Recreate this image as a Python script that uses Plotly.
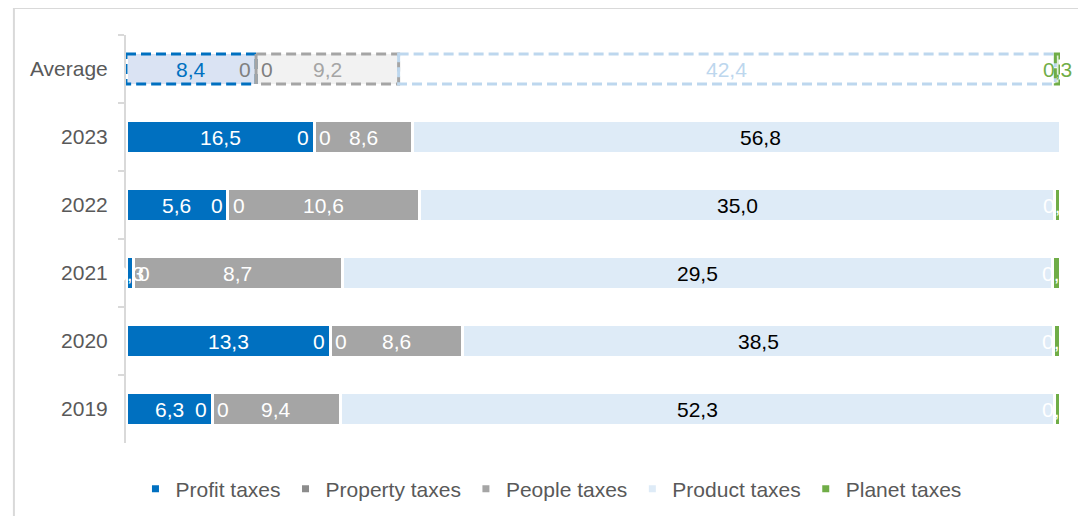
import plotly.graph_objects as go

categories = ["Average", "2023", "2022", "2021", "2020", "2019"]
profit = [8.4, 16.5, 5.6, 0.3, 13.3, 6.3]
property_ = [0, 0, 0, 0, 0, 0]
people = [9.2, 8.6, 10.6, 8.7, 8.6, 9.4]
product = [42.4, 56.8, 35.0, 29.5, 38.5, 52.3]
planet = [0.3, 0, 0.3, 0.3, 0.4, 0.4]
series_names = ["Profit taxes", "Property taxes", "People taxes", "Product taxes", "Planet taxes"]
series_values = [profit, property_, people, product, planet]

main_colors = ["#0070C0", "#7F7F7F", "#A5A5A5", "#DEEBF7", "#70AD47"]
avg_fill = ["#DAE3F3", "#F2F2F2", "#F2F2F2", "#FFFFFF", "#E2F0D9"]
avg_border = ["#0070C0", "#A5A5A5", "#A5A5A5", "#BDD7EE", "#70AD47"]
label_main = ["white", "white", "white", "black", "white"]
label_avg = ["#0070C0", "#7F7F7F", "#A5A5A5", "#BDD7EE", "#70AD47"]

FONT = "Liberation Sans, Arial, sans-serif"
BAR_W = 0.485
FS = 21
# manually moved data label in the original (row, series) -> pixel shift
LABEL_NUDGE = {(1, 3): 24}


def fmt(v):
    if v == 0:
        return "0"
    return f"{v:.1f}".replace(".", ",")


fig = go.Figure()
for i, (name, vals) in enumerate(zip(series_names, series_values)):
    fig.add_trace(go.Bar(
        y=categories, x=vals, orientation="h", name=name, showlegend=False,
        width=BAR_W,
        marker=dict(color=[avg_fill[i]] + [main_colors[i]] * (len(categories) - 1),
                    line=dict(color="white", width=3)),
        hoverinfo="skip",
    ))

# legend entries
for i, name in enumerate(series_names):
    fig.add_trace(go.Scatter(
        x=[None], y=[categories[0]], mode="markers", name=name,
        marker=dict(symbol="square", size=7, color=main_colors[i] if i != 1 else "#8C8C8C"),
        hoverinfo="skip",
    ))

shapes = []
annotations = []
for r, cat in enumerate(categories):
    vals = [s[r] for s in series_values]
    total = sum(vals)
    pct = [v / total * 100 for v in vals]
    starts = []
    acc = 0
    for p in pct:
        starts.append(acc)
        acc += p
    colors = label_avg if r == 0 else label_main
    for i in range(5):
        s, e = starts[i], starts[i] + pct[i]
        c = (s + e) / 2
        if r == 0:
            shapes.append(dict(type="rect", xref="x", yref="y", x0=s, x1=e,
                               y0=r - 0.22, y1=r + 0.22,
                               line=dict(color=avg_border[i], width=3, dash="10px,5px"),
                               fillcolor="rgba(0,0,0,0)", layer="above"))
        if i == 1:
            annotations.append(dict(x=s, y=r, xref="x", yref="y", text=fmt(vals[i]),
                                    showarrow=False, xanchor="right", xshift=-3,
                                    font=dict(family=FONT, size=FS, color=colors[i])))
            annotations.append(dict(x=s, y=r, xref="x", yref="y", text=fmt(vals[i]),
                                    showarrow=False, xanchor="left", xshift=3,
                                    font=dict(family=FONT, size=FS, color=colors[i])))
        elif i == 4 and vals[i] == 0:
            annotations.append(dict(x=e, y=r, xref="x", yref="y", text=fmt(vals[i]),
                                    showarrow=False, xanchor="right", xshift=-5,
                                    font=dict(family=FONT, size=FS, color=colors[i])))
        else:
            annotations.append(dict(x=c, y=r, xref="x", yref="y", text=fmt(vals[i]),
                                    showarrow=False, xanchor="center",
                                    xshift=LABEL_NUDGE.get((r, i), 0),
                                    font=dict(family=FONT, size=FS, color=colors[i])))

# chart frame
shapes.append(dict(type="rect", xref="paper", yref="paper", x0=-0.12, x1=1.024,
                   y0=-0.25, y1=1.066, line=dict(color="#D9D9D9", width=2),
                   fillcolor="rgba(0,0,0,0)", layer="below"))

fig.update_layout(
    width=1078, height=508,
    barmode="stack", barnorm="percent",
    paper_bgcolor="white", plot_bgcolor="white",
    margin=dict(l=118, r=26, t=27, b=73, autoexpand=False),
    font=dict(family=FONT, size=FS, color="#595959"),
    xaxis=dict(range=[0, 100], visible=False, showgrid=False, zeroline=False),
    yaxis=dict(type="category", categoryorder="array", categoryarray=categories,
               range=[len(categories) - 0.5, -0.5], showline=True, linecolor="#D9D9D9",
               linewidth=2, ticks="outside", tickson="boundaries", ticklen=6,
               tickcolor="#D9D9D9", tickwidth=2, showgrid=False, zeroline=False,
               tickfont=dict(family=FONT, size=FS, color="#595959"), ticklabelstandoff=12),
    legend=dict(orientation="h", x=0.455, xanchor="center", yref="container", y=0.053,
                yanchor="middle",
                font=dict(family=FONT, size=FS, color="#595959"), itemwidth=30,
                traceorder="normal", bgcolor="rgba(0,0,0,0)"),
    shapes=shapes, annotations=annotations,
    showlegend=True,
)

fig.write_html("out.html")
